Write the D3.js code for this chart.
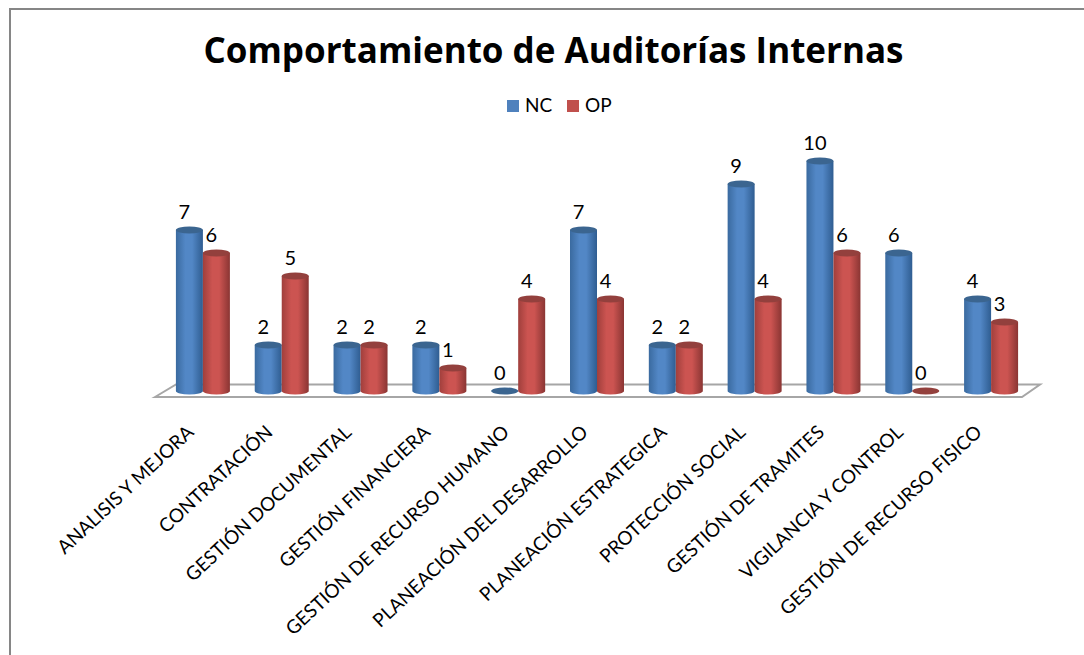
<!DOCTYPE html>
<html>
<head>
<meta charset="utf-8">
<script src="https://cdn.jsdelivr.net/npm/d3@7"></script>
<style>
  html, body { margin: 0; padding: 0; background: #fff; }
  text { font-family: Lato, "Open Sans", sans-serif; fill: #000; }
</style>
</head>
<body>
<div id="chart-area"></div>
<script>
const categories = [
  "ANALISIS Y MEJORA", "CONTRATACIÓN", "GESTIÓN DOCUMENTAL", "GESTIÓN FINANCIERA",
  "GESTIÓN DE RECURSO HUMANO", "PLANEACIÓN DEL DESARROLLO", "PLANEACIÓN ESTRATEGICA",
  "PROTECCIÓN SOCIAL", "GESTIÓN DE TRAMITES", "VIGILANCIA Y CONTROL", "GESTIÓN DE RECURSO FISICO"
];
const seriesNames = ["NC", "OP"];
const nc = [7, 2, 2, 2, 0, 7, 2, 9, 10, 6, 4];
const op = [6, 5, 2, 1, 4, 4, 2, 4, 6, 0, 3];
const seriesColors = { NC: ["#2f5d91", "#5287c6", "#3a6a9f", "#3b6590"], OP: ["#8a3533", "#cc5451", "#a03f3c", "#93403d"] };
const legendColors = { NC: "#4f81bd", OP: "#c0504d" };

const width = 1084, height = 655;

const svg = d3.select("#chart-area")
  .append("svg")
  .attr("width", width)
  .attr("height", height)
  .style("display", "block");

const x = d3.scaleBand().domain(categories).range([163.5, 1030.5]);
const y = d3.scaleLinear().domain([0, 10]).range([391, 161]);
const barW = 27, ry = 3.5;

// cylinder shading
const defs = svg.append("defs");
seriesNames.forEach(s => {
  const c = seriesColors[s];
  const grad = defs.append("linearGradient").attr("id", "cyl-" + s);
  grad.append("stop").attr("offset", "0%").attr("stop-color", c[2]);
  grad.append("stop").attr("offset", "35%").attr("stop-color", c[1]);
  grad.append("stop").attr("offset", "60%").attr("stop-color", c[1]);
  grad.append("stop").attr("offset", "100%").attr("stop-color", c[0]);
});

// outer frame, only top and left show in the picture
svg.append("path")
  .attr("d", `M10,${height}V9H${width}`)
  .attr("fill", "none")
  .attr("stroke", "#868686")
  .attr("stroke-width", 2);

// floor
svg.append("path")
  .attr("d", "M155,397L176,384.5H1040L1022,397Z")
  .attr("fill", "#fff")
  .attr("stroke", "#a6a6a6")
  .attr("stroke-width", 2);

svg.append("text")
  .attr("x", 553.5)
  .attr("y", 63)
  .attr("text-anchor", "middle")
  .attr("font-size", 35)
  .attr("font-weight", 700)
  .style("font-family", "'Open Sans', sans-serif")
  .text("Comportamiento de Auditorías Internas");

// legend
const legendX = { NC: 507, OP: 567 };
seriesNames.forEach(s => {
  svg.append("rect")
    .attr("x", legendX[s])
    .attr("y", 100)
    .attr("width", 12)
    .attr("height", 12)
    .attr("fill", legendColors[s]);
  svg.append("text")
    .attr("x", legendX[s] + 18)
    .attr("y", 112)
    .attr("font-size", 19)
    .text(s);
});

function drawSeries(name, values, offset) {
  const groups = svg.append("g").selectAll("g")
    .data(values)
    .join("g")
    .attr("transform", (d, i) => `translate(${x(categories[i]) + x.bandwidth() / 2 + offset},0)`);

  groups.append("path")
    .attr("d", d => {
      const top = y(d), bottom = y(0);
      if (d === 0) return "";
      return `M${-barW / 2},${top}V${bottom}A${barW / 2},${ry} 0 0 0 ${barW / 2},${bottom}V${top}Z`;
    })
    .attr("fill", `url(#cyl-${name})`);

  groups.append("ellipse")
    .attr("cy", d => d === 0 ? y(0) : y(d))
    .attr("rx", barW / 2)
    .attr("ry", ry)
    .attr("fill", seriesColors[name][3]);

  groups.append("text")
    .attr("x", -5)
    .attr("y", d => y(d) - 11)
    .attr("text-anchor", "middle")
    .attr("font-size", 20)
    .text(d => d);
}

drawSeries("NC", nc, -13.5);
drawSeries("OP", op, 13.5);

// rotated category labels, anchored at their end
svg.append("g").selectAll("text")
  .data(categories)
  .join("text")
  .attr("transform", d => `translate(${x(d) + x.bandwidth() / 2 - 17},424) rotate(-43)`)
  .attr("text-anchor", "end")
  .attr("dy", "0.7em")
  .attr("font-size", 19)
  .text(d => d);
</script>
</body>
</html>
